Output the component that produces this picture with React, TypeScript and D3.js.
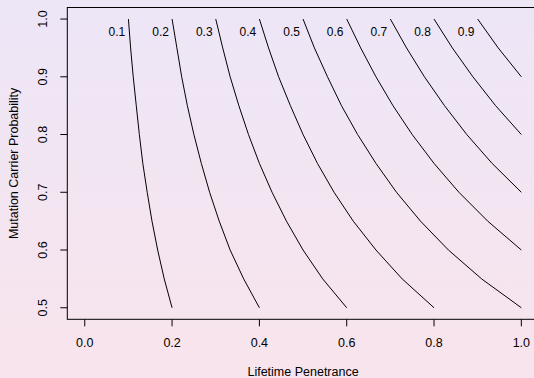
import * as d3 from "d3";

const WIDTH = 534;
const HEIGHT = 378;

// contour levels (penetrance x carrier probability)
const levels = [0.1, 0.2, 0.3, 0.4, 0.5, 0.6, 0.7, 0.8, 0.9];

// carrier probability values where each contour was read
const carrierProb = [1.0, 0.95, 0.9, 0.85, 0.8, 0.75, 0.7, 0.65, 0.6, 0.55, 0.5];

// penetrance along each contour, one entry per carrierProb value
const penetrance: number[][] = [
  [0.1, 0.105, 0.111, 0.118, 0.125, 0.133, 0.143, 0.154, 0.167, 0.182, 0.2],
  [0.2, 0.211, 0.222, 0.235, 0.25, 0.267, 0.286, 0.308, 0.333, 0.364, 0.4],
  [0.3, 0.316, 0.333, 0.353, 0.375, 0.4, 0.429, 0.462, 0.5, 0.545, 0.6],
  [0.4, 0.421, 0.444, 0.471, 0.5, 0.533, 0.571, 0.615, 0.667, 0.727, 0.8],
  [0.5, 0.526, 0.556, 0.588, 0.625, 0.667, 0.714, 0.769, 0.833, 0.909, 1.0],
  [0.6, 0.632, 0.667, 0.706, 0.75, 0.8, 0.857, 0.923, 1.0],
  [0.7, 0.737, 0.778, 0.824, 0.875, 0.933, 1.0],
  [0.8, 0.842, 0.889, 0.941, 1.0],
  [0.9, 0.947, 1.0],
];

const xTicks = [0.0, 0.2, 0.4, 0.6, 0.8, 1.0];
const yTicks = [0.5, 0.6, 0.7, 0.8, 0.9, 1.0];

const xLabel = "Lifetime Penetrance";
const yLabel = "Mutation Carrier Probability";

const font = "'Liberation Sans', Arial, Helvetica, sans-serif";

export default function App() {
  const left = 67.3;
  const right = 538.8;
  const top = 7.5;
  const bottom = 319.3;

  const x = d3.scaleLinear().domain([-0.04, 1.04]).range([left, right]);
  const y = d3.scaleLinear().domain([0.48, 1.02]).range([bottom, top]);

  const line = d3
    .line<[number, number]>()
    .x((d) => x(d[0]))
    .y((d) => y(d[1]));

  return (
    <svg
      width={WIDTH}
      height={HEIGHT}
      style={{ position: "absolute", left: 0, top: 0 }}
      fontFamily={font}
    >
      <defs>
        <linearGradient id="bg" x1="0" y1="0" x2="0" y2="1">
          <stop offset="0%" stopColor="#ede6f7" />
          <stop offset="100%" stopColor="#f8e4ec" />
        </linearGradient>
      </defs>
      <rect width={WIDTH} height={HEIGHT} fill="url(#bg)" />

      {/* contour lines */}
      <g fill="none" stroke="#000" strokeWidth={1}>
        {levels.map((lv, i) => (
          <path
            key={lv}
            d={line(penetrance[i].map((p, j) => [p, carrierProb[j]]))!}
          />
        ))}
      </g>

      {/* contour labels */}
      <g fontSize={12} fill="#000" textAnchor="middle">
        {levels.map((lv) => (
          <text key={lv} x={x(lv) - 11.5} y={y(0.977) + 4}>
            {lv.toFixed(1)}
          </text>
        ))}
      </g>

      {/* box */}
      <rect
        x={left}
        y={top}
        width={right - left}
        height={bottom - top}
        fill="none"
        stroke="#000"
        strokeWidth={1}
      />

      {/* x axis */}
      <g>
        {xTicks.map((t) => (
          <g key={t}>
            <line x1={x(t)} x2={x(t)} y1={bottom} y2={bottom + 7} stroke="#000" />
            <text
              x={x(t)}
              y={bottom + 28}
              fontSize={12.5}
              textAnchor="middle"
              fill="#000"
            >
              {t.toFixed(1)}
            </text>
          </g>
        ))}
        <text
          x={(x(0) + x(1)) / 2}
          y={376}
          fontSize={12.5}
          textAnchor="middle"
          fill="#000"
        >
          {xLabel}
        </text>
      </g>

      {/* y axis */}
      <g>
        {yTicks.map((t) => (
          <g key={t}>
            <line x1={left - 7} x2={left} y1={y(t)} y2={y(t)} stroke="#000" />
            <text
              transform={`translate(${left - 20},${y(t)}) rotate(-90)`}
              fontSize={12.5}
              textAnchor="middle"
              fill="#000"
            >
              {t.toFixed(1)}
            </text>
          </g>
        ))}
        <text
          transform={`translate(18,${(y(0.5) + y(1)) / 2}) rotate(-90)`}
          fontSize={12.5}
          textAnchor="middle"
          fill="#000"
        >
          {yLabel}
        </text>
      </g>
    </svg>
  );
}
